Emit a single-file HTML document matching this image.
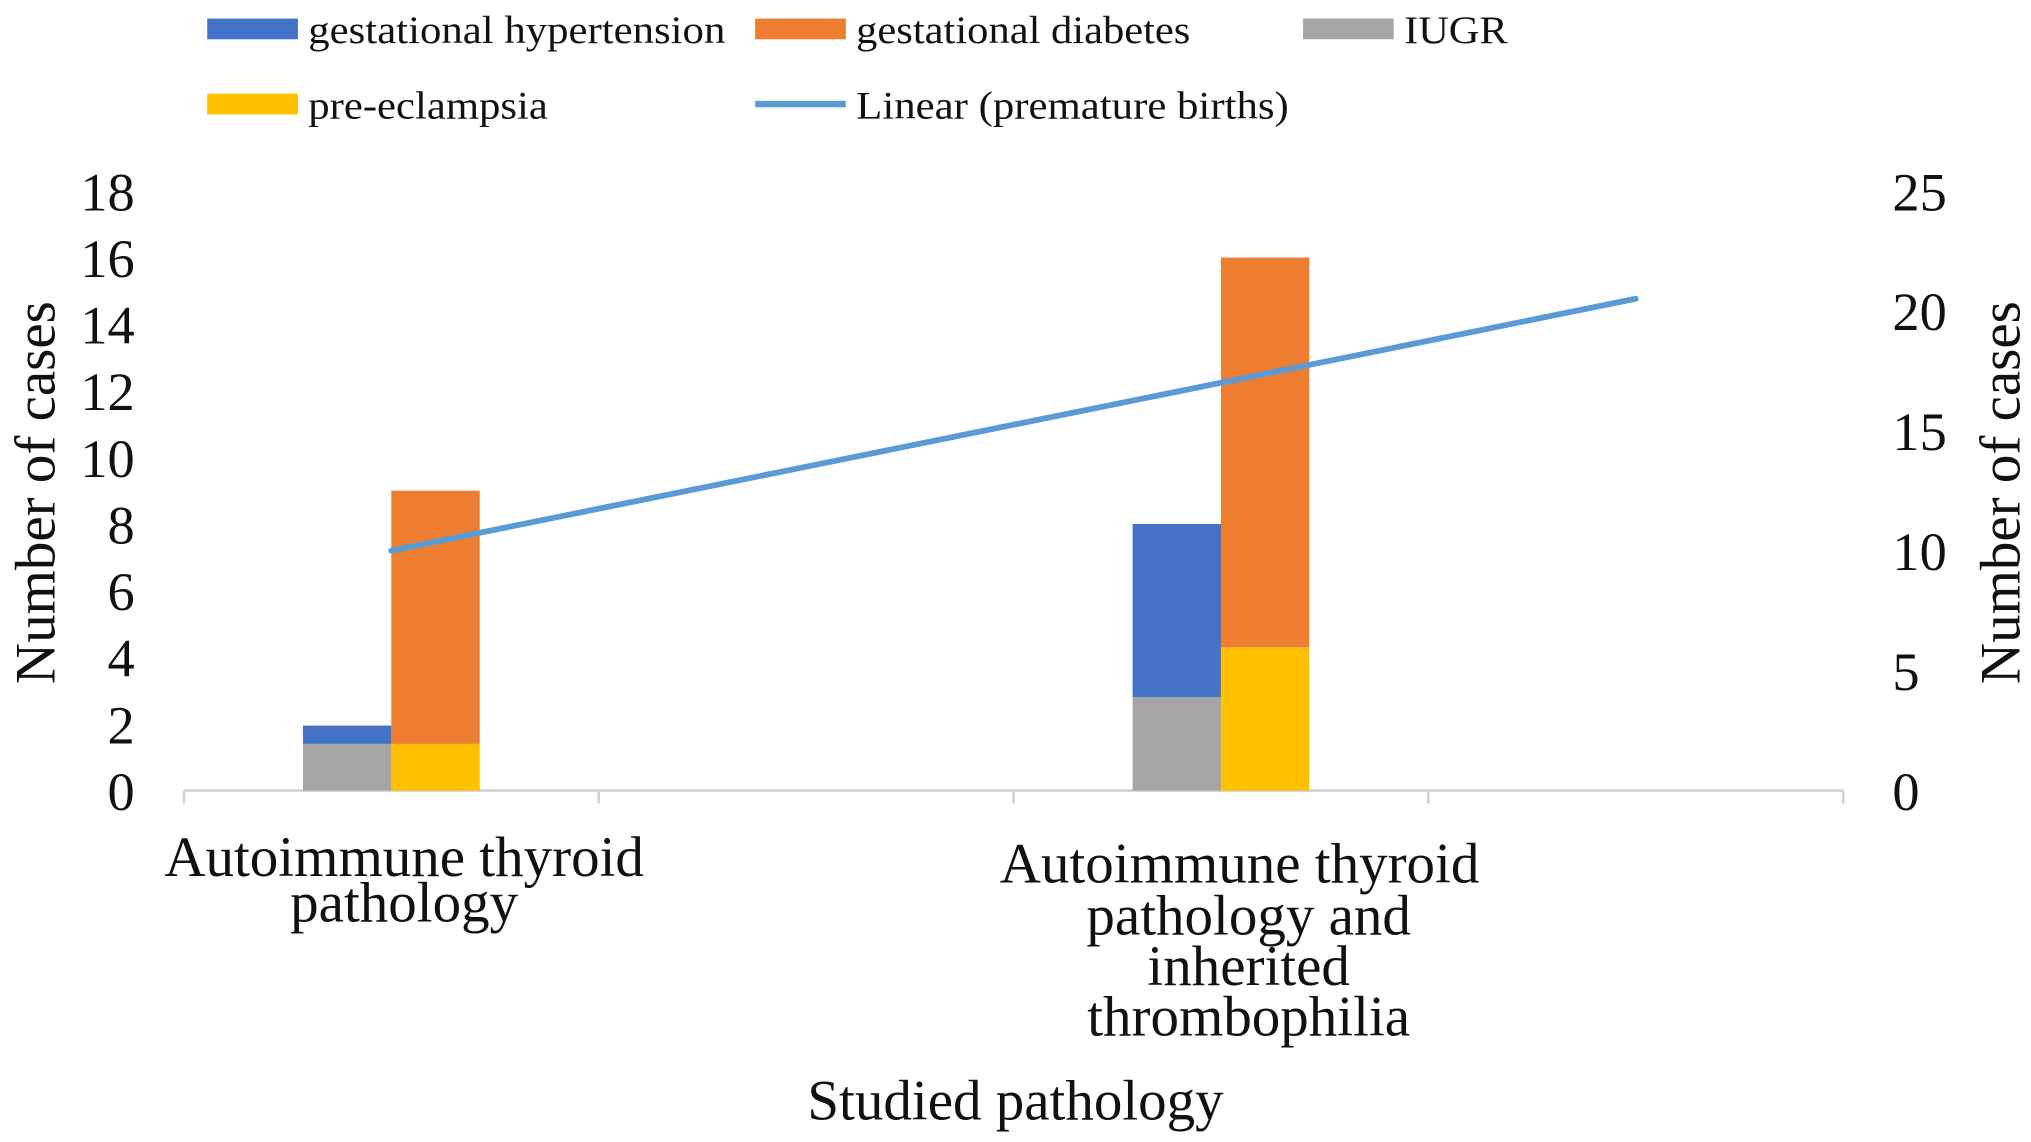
<!DOCTYPE html>
<html><head><meta charset="utf-8"><style>
html,body{margin:0;padding:0;background:#fff}
svg{display:block}
text{font-family:"Liberation Serif",serif;fill:#111}
</style></head><body>
<svg id="chart" width="2031" height="1142" viewBox="0 0 1568 881" xmlns="http://www.w3.org/2000/svg">
<g id="legend">
 <g><rect x="160" y="14" width="70" height="16" fill="#4472c4"/><text x="238" y="33" font-size="30" textLength="322" lengthAdjust="spacingAndGlyphs">gestational hypertension</text></g>
 <g><rect x="583" y="14" width="70" height="16" fill="#ed7d31"/><text x="661" y="33" font-size="30" textLength="258" lengthAdjust="spacingAndGlyphs">gestational diabetes</text></g>
 <g><rect x="1006" y="14" width="70" height="16" fill="#a5a5a5"/><text x="1084" y="33" font-size="30" textLength="80" lengthAdjust="spacingAndGlyphs">IUGR</text></g>
 <g><rect x="160" y="72" width="70" height="16" fill="#ffc000"/><text x="238" y="91" font-size="30" textLength="185" lengthAdjust="spacingAndGlyphs">pre-eclampsia</text></g>
 <g><line x1="583" y1="80" x2="653" y2="80" stroke="#5b9bd5" stroke-width="5"/><text x="661" y="91" font-size="30" textLength="334" lengthAdjust="spacingAndGlyphs">Linear (premature births)</text></g>
</g>
<g id="axes"></g>
<g id="bars"></g>
<g id="trend"></g>
<text transform="translate(42,380) rotate(-90)" text-anchor="middle" font-size="44">Number of cases</text>
<text transform="translate(1559,380) rotate(-90)" text-anchor="middle" font-size="44">Number of cases</text>
<text x="784" y="864" text-anchor="middle" font-size="44">Studied pathology</text>
<g font-size="44">
 <text x="312" y="676" text-anchor="middle">Autoimmune thyroid</text>
 <text x="312" y="711" text-anchor="middle">pathology</text>
</g>
<g font-size="44">
 <text x="957" y="681" text-anchor="middle">Autoimmune thyroid</text>
 <text x="964" y="721" text-anchor="middle">pathology and</text>
 <text x="964" y="760" text-anchor="middle">inherited</text>
 <text x="964" y="799" text-anchor="middle">thrombophilia</text>
</g>
</svg>
<script>
const categories = ["Autoimmune thyroid pathology", "", "Autoimmune thyroid pathology and inherited thrombophilia", ""];
const iugr = [1.4, 0, 2.8, 0];
const hypertension = [0.55, 0, 5.2, 0];
const preeclampsia = [1.4, 0, 4.3, 0];
const diabetes = [7.6, 0, 11.7, 0];
const trend = [10, 13.5, 17, 20.5];
const leftTicks = [0, 2, 4, 6, 8, 10, 12, 14, 16, 18];
const rightTicks = [0, 5, 10, 15, 20, 25];

const NS = "http://www.w3.org/2000/svg";
const X0 = 142, X1 = 1423, Y0 = 610, YT = 147;
const slotW = (X1 - X0) / categories.length;
const yL = v => Y0 - (v / 18) * (Y0 - YT);
const yR = v => Y0 - (v / 25) * (Y0 - YT);
const xC = i => X0 + slotW * (i + 0.5);
function mk(tag, attrs, parent) {
  const e = document.createElementNS(NS, tag);
  for (const k in attrs) e.setAttribute(k, attrs[k]);
  parent.appendChild(e);
  return e;
}
const axes = document.getElementById("axes");
const ax = mk("line", {x1: X0, y1: Y0, x2: X1, y2: Y0, stroke: "#d0d0d0", "stroke-width": 2}, axes);


for (let i = 0; i <= categories.length; i++) {
  const t = mk("line", {x1: X0 + slotW * i, y1: Y0, x2: X0 + slotW * i, y2: Y0 + 10, stroke: "#d0d0d0", "stroke-width": 2}, axes);
  
  
}
leftTicks.forEach(v => {
  const t = mk("text", {x: 104, y: yL(v) + 15, "text-anchor": "end", "font-size": 42}, axes);
  t.textContent = v;
  
  
});
rightTicks.forEach(v => {
  const t = mk("text", {x: 1461, y: yR(v) + 15, "text-anchor": "start", "font-size": 42}, axes);
  t.textContent = v;
  
  
});
const bars = document.getElementById("bars");
const bw = slotW * 0.213;
categories.forEach((c, i) => {
  const xl = xC(i) - bw, xr = xC(i);
  const segs = [
    [xl, 0, iugr[i], "#a5a5a5", "bar-iugr"],
    [xl, iugr[i], iugr[i] + hypertension[i], "#4472c4", "bar-hypertension"],
    [xr, 0, preeclampsia[i], "#ffc000", "bar-preeclampsia"],
    [xr, preeclampsia[i], preeclampsia[i] + diabetes[i], "#ed7d31", "bar-diabetes"]
  ];
  segs.forEach(s => {
    if (s[2] - s[1] <= 0) return;
    const r = mk("rect", {x: s[0], y: yL(s[2]), width: bw, height: yL(s[1]) - yL(s[2]), fill: s[3]}, bars);
    
    
  });
});
const tr = document.getElementById("trend");
const pts = trend.map((v, i) => xC(i) + "," + yR(v)).join(" ");
const pl = mk("polyline", {points: pts, fill: "none", stroke: "#5b9bd5", "stroke-width": 4.5, "stroke-linecap": "round"}, tr);


</script>
</body></html>
